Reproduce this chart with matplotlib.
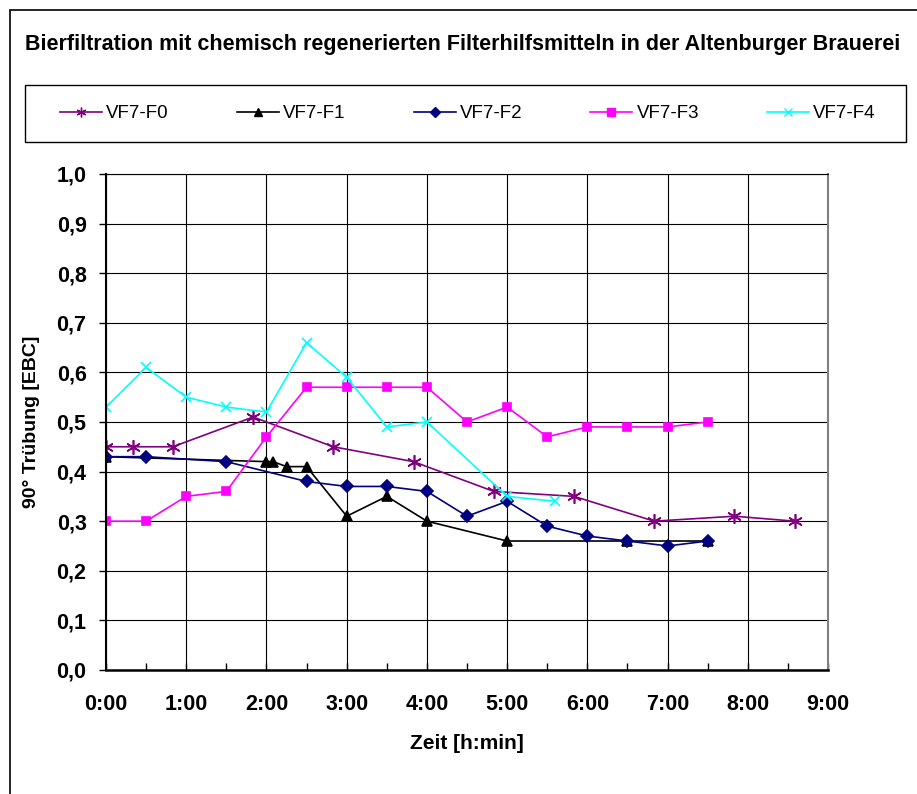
import matplotlib.pyplot as plt
from matplotlib.lines import Line2D
from matplotlib.patches import Rectangle
from matplotlib.ticker import MultipleLocator, FuncFormatter

plt.rcParams['font.family'] = ['Liberation Sans', 'DejaVu Sans']

# Messzeiten [h:min] und Trübungswerte [EBC] je Versuch
t_f0 = ['0:00', '0:20', '0:50', '1:50', '2:50', '3:50', '4:50', '5:50', '6:50', '7:50', '8:35']
y_f0 = [0.45, 0.45, 0.45, 0.51, 0.45, 0.42, 0.36, 0.35, 0.30, 0.31, 0.30]

t_f1 = ['0:00', '2:00', '2:05', '2:15', '2:30', '3:00', '3:30', '4:00', '5:00', '6:30', '7:30']
y_f1 = [0.43, 0.42, 0.42, 0.41, 0.41, 0.31, 0.35, 0.30, 0.26, 0.26, 0.26]

t_f2 = ['0:00', '0:30', '1:30', '2:30', '3:00', '3:30', '4:00', '4:30', '5:00', '5:30', '6:00', '6:30', '7:00', '7:30']
y_f2 = [0.43, 0.43, 0.42, 0.38, 0.37, 0.37, 0.36, 0.31, 0.34, 0.29, 0.27, 0.26, 0.25, 0.26]

t_f3 = ['0:00', '0:30', '1:00', '1:30', '2:00', '2:30', '3:00', '3:30', '4:00', '4:30', '5:00', '5:30', '6:00', '6:30', '7:00', '7:30']
y_f3 = [0.30, 0.30, 0.35, 0.36, 0.47, 0.57, 0.57, 0.57, 0.57, 0.50, 0.53, 0.47, 0.49, 0.49, 0.49, 0.50]

t_f4 = ['0:00', '0:30', '1:00', '1:30', '2:00', '2:30', '3:00', '3:30', '4:00', '5:00', '5:36']
y_f4 = [0.53, 0.61, 0.55, 0.53, 0.52, 0.66, 0.59, 0.49, 0.50, 0.35, 0.34]

names = ['VF7-F0', 'VF7-F1', 'VF7-F2', 'VF7-F3', 'VF7-F4']
colors = ['#800080', 'black', '#000080', '#FF00FF', '#00FFFF']
markers = [(6, 2, 0), '^', 'D', 's', 'x']
msizes = [10.5, 7, 6.5, 6, 7.5]
leg_msizes = [7, 5.5, 5.5, 5.5, 5.5]


def hours(times):
    out = []
    for t in times:
        h, m = t.split(':')
        out.append(int(h) + int(m) / 60)
    return out


series = [(t_f0, y_f0), (t_f1, y_f1), (t_f2, y_f2), (t_f3, y_f3), (t_f4, y_f4)]

fig = plt.figure(figsize=(9.17, 7.94), dpi=100)
ax = fig.add_axes([0.1156, 0.1562, 0.7874, 0.6247])

for (t, y), name, c, m, ms in zip(series, names, colors, markers, msizes):
    ax.plot(hours(t), y, color=c, lw=1.2, marker=m, ms=ms, mew=1.2, label=name)

ax.set_xlim(0, 9)
ax.set_ylim(0, 1.0)
ax.xaxis.set_major_locator(MultipleLocator(1))
ax.xaxis.set_minor_locator(MultipleLocator(0.5))
ax.yaxis.set_major_locator(MultipleLocator(0.1))
ax.xaxis.set_major_formatter(FuncFormatter(lambda v, p: f'{int(round(v))}:00'))
ax.yaxis.set_major_formatter(FuncFormatter(lambda v, p: f'{v:.1f}'.replace('.', ',')))

ax.grid(True, which='major', color='black', lw=0.8)
ax.set_axisbelow(True)
ax.tick_params(axis='x', which='both', direction='in', length=5, width=1, pad=17,
               labelsize=15.5)
ax.tick_params(axis='y', direction='out', length=5, width=1, pad=9, labelsize=15.5)
for lab in ax.get_xticklabels() + ax.get_yticklabels():
    lab.set_fontweight('bold')

ax.spines['right'].set_color('#808080')
ax.spines['right'].set_linewidth(1.5)
ax.spines['top'].set_linewidth(0.8)
ax.spines['left'].set_linewidth(1.5)
ax.spines['bottom'].set_linewidth(1.8)

ax.set_xlabel('Zeit [h:min]', fontsize=15, fontweight='bold', labelpad=14)
ax.set_ylabel('90° Trübung [EBC]', fontsize=14, fontweight='bold', labelpad=12)

fig.text(0.504, 0.944, 'Bierfiltration mit chemisch regenerierten Filterhilfsmitteln in der Altenburger Brauerei',
         ha='center', va='center', fontsize=15.5, fontweight='bold')

# Legende mit kleineren Symbolen in eigenem Rahmen
handles = [Line2D([], [], color=c, lw=1.2, marker=m, ms=s, mew=1.0)
           for c, m, s in zip(colors, markers, leg_msizes)]
fig.legend(handles, names, loc='center left', ncol=5,
           bbox_to_anchor=(60 / 917, 1 - 113.5 / 794), frameon=False,
           fontsize=13.5, handlelength=2.24, handletextpad=0.23,
           columnspacing=3.62, borderpad=0, borderaxespad=0)
fig.patches.append(Rectangle((24.7 / 917, 1 - 142 / 794), (906 - 24.7) / 917, 57 / 794,
                             transform=fig.transFigure, fill=False,
                             edgecolor='black', lw=1.0))

# Rahmen um das gesamte Diagramm
fig.patches.append(Rectangle((0.0109, -0.1), 1.2, 0.1 + 0.987, transform=fig.transFigure,
                             fill=False, edgecolor='black', lw=1.2, clip_on=False))

fig.savefig('out.png', dpi=100)
